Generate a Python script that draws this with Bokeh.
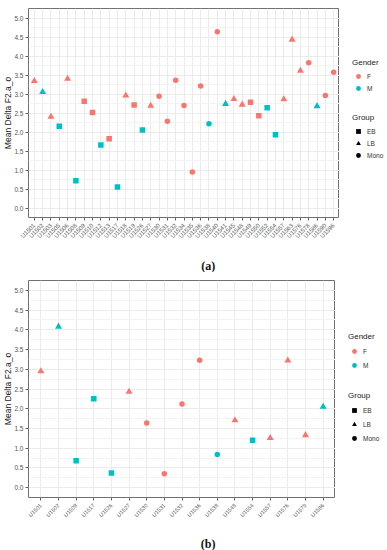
import math
from bokeh.plotting import figure
from bokeh.models import (FactorRange, Legend, LegendItem, Label, SingleIntervalTicker,
                          PrintfTickFormatter, ColumnDataSource, Range1d)
from bokeh.transform import factor_cmap, factor_mark
from bokeh.layouts import column, row
from bokeh.embed import file_html
from bokeh.resources import INLINE

# ---------------- data: panel (a) ----------------
a_speakers = ["U1501", "U1502", "U1503", "U1505", "U1506", "U1508", "U1509", "U1510",
              "U1512", "U1513", "U1517", "U1518", "U1519", "U1526", "U1527", "U1530",
              "U1531", "U1532", "U1534", "U1535", "U1536", "U1538", "U1540", "U1541",
              "U1545", "U1548", "U1549", "U1550", "U1552", "U1554", "U1557", "U1563",
              "U1576", "U1578", "U1586", "U1590", "U1596"]
a_gender = ["F", "M", "F", "M", "F", "M", "F", "F", "M", "F", "M", "F", "F", "M", "F", "F",
            "F", "F", "F", "F", "F", "M", "F", "M", "F", "F", "F", "F", "M", "M", "F", "F",
            "F", "F", "M", "F", "F"]
a_group = ["LB", "LB", "LB", "EB", "LB", "EB", "EB", "EB", "EB", "EB", "EB", "LB", "EB",
           "EB", "LB", "Mono", "Mono", "Mono", "Mono", "Mono", "Mono", "Mono", "Mono", "LB",
           "LB", "LB", "EB", "EB", "EB", "EB", "LB", "LB", "LB", "Mono", "LB", "Mono", "Mono"]
a_delta = [3.34, 3.05, 2.40, 2.15, 3.40, 0.72, 2.81, 2.51, 1.66, 1.82, 0.55, 2.96, 2.71,
           2.05, 2.69, 2.94, 2.28, 3.36, 2.70, 0.95, 3.21, 2.22, 4.64, 2.74, 2.87, 2.72,
           2.78, 2.43, 2.64, 1.93, 2.86, 4.43, 3.61, 3.82, 2.68, 2.96, 3.57]

# ---------------- data: panel (b) ----------------
b_speakers = ["U1501", "U1502", "U1508", "U1517", "U1526", "U1527", "U1530", "U1531",
              "U1532", "U1536", "U1538", "U1548", "U1554", "U1557", "U1576", "U1579", "U1586"]
b_gender = ["F", "M", "M", "M", "M", "F", "F", "F", "F", "F", "M", "F", "M", "F", "F", "F", "M"]
b_group = ["LB", "LB", "EB", "EB", "EB", "LB", "Mono", "Mono", "Mono", "Mono", "Mono",
           "LB", "EB", "LB", "LB", "LB", "LB"]
b_delta = [2.95, 4.08, 0.68, 2.25, 0.37, 2.43, 1.64, 0.35, 2.12, 3.23, 0.84, 1.71, 1.20,
           1.26, 3.22, 1.33, 2.05]

GENDERS = ["F", "M"]
GENDER_COLORS = ["#F8766D", "#00BFC4"]
GROUPS = ["EB", "LB", "Mono"]
GROUP_MARKERS = ["square", "triangle", "circle"]
MARK_SIZE = {"EB": 5.5, "LB": 7, "Mono": 5.5}

FONT = "Liberation Sans"
GRID = "#EBEBEB"
BORDER = "#707070"


def make_main(speakers, gender, group, delta, width, height, top, bottom, xfont):
    src = ColumnDataSource(dict(speaker=speakers, gender=gender, group=group, delta=delta,
                                size=[MARK_SIZE[g] for g in group]))
    p = figure(width=width, height=height,
               x_range=FactorRange(factors=speakers, range_padding=0.2,
                                   range_padding_units="absolute"),
               y_range=Range1d(-0.25, 5.25), output_backend="svg", toolbar_location=None,
               min_border_left=27, min_border_right=0, min_border_top=top,
               min_border_bottom=bottom, background_fill_color="white",
               border_fill_color="white")
    p.scatter(x="speaker", y="delta", source=src, size="size",
              marker=factor_mark("group", GROUP_MARKERS, GROUPS),
              fill_color=factor_cmap("gender", GENDER_COLORS, GENDERS), line_color=None)

    p.yaxis.ticker = SingleIntervalTicker(interval=0.5, num_minor_ticks=2)
    p.yaxis.formatter = PrintfTickFormatter(format="%.1f")
    p.yaxis.axis_label = "Mean Delta F2.a_o"
    p.yaxis.axis_label_text_font = FONT
    p.yaxis.axis_label_text_font_size = "8.5px"
    p.yaxis.axis_label_text_font_style = "normal"
    p.yaxis.axis_label_text_color = "#222222"
    p.yaxis.axis_label_standoff = -2
    for ax in (p.xaxis, p.yaxis):
        ax.axis_line_color = None
        ax.major_tick_line_color = "#606060"
        ax.major_tick_out = 3
        ax.major_tick_in = 0
        ax.minor_tick_line_color = None
        ax.major_label_text_font = FONT
        ax.major_label_text_color = "#555555"
    p.yaxis.major_label_standoff = 1
    p.xaxis.major_label_standoff = 4
    p.yaxis.major_label_text_font_size = "6.5px"
    p.xaxis.major_label_text_font_size = xfont
    p.xaxis.major_label_orientation = math.pi / 4

    p.xgrid.grid_line_color = GRID
    p.ygrid.grid_line_color = GRID
    p.ygrid.minor_grid_line_color = "#F3F3F3"
    p.outline_line_color = BORDER
    p.outline_line_width = 1
    return p


def blank(width, height):
    q = figure(width=width, height=height, x_range=Range1d(0, width),
               y_range=Range1d(0, height), x_axis_type=None, y_axis_type=None,
               output_backend="svg", toolbar_location=None, min_border=0,
               outline_line_color=None, background_fill_color="white",
               border_fill_color="white")
    q.grid.visible = False
    return q


def make_caption(width, text, cx):
    q = blank(width, 14)
    q.add_layout(Label(x=cx, y=7, text=text, text_align="center", text_baseline="middle",
                       text_font="Liberation Serif", text_font_style="bold",
                       text_font_size="12px", text_color="#111111"))
    return q


def make_legend(width, height, x, y_gender, y_group, row_h):
    q = blank(width, height)
    # key renderers: one point each, placed outside the visible range (only their legend keys show)
    keys_g = [q.scatter(x=[-100], y=[-100], marker="circle", size=6, fill_color=c,
                        line_color=None) for c in GENDER_COLORS]
    keys_m = [q.scatter(x=[-100], y=[-100], marker=m, size=6, fill_color="black",
                        line_color=None) for m in GROUP_MARKERS]
    for title, labels, rends, ly in (("Gender", GENDERS, keys_g, y_gender),
                                      ("Group", GROUPS, keys_m, y_group)):
        leg = Legend(items=[LegendItem(label=l, renderers=[r]) for l, r in zip(labels, rends)],
                     title=title, location=(x, ly), orientation="vertical",
                     padding=0, margin=0, spacing=0, border_line_color=None,
                     background_fill_alpha=0, glyph_width=12, glyph_height=12,
                     label_height=row_h, label_standoff=3,
                     label_text_font=FONT, label_text_font_size="6.5px",
                     label_text_color="#333333",
                     title_text_font=FONT, title_text_font_size="8px",
                     title_text_font_style="normal", title_text_color="#222222",
                     title_standoff=3)
        q.add_layout(leg)
    return q


pa = make_main(a_speakers, a_gender, a_group, a_delta, width=339, height=258, top=8,
               bottom=41, xfont="6px")
ca = make_caption(339, "(a)", 196)
la = make_legend(width=48, height=272, x=13, y_gender=178, y_group=111, row_h=12)

pb = make_main(b_speakers, b_gender, b_group, b_delta, width=335, height=264, top=8,
               bottom=39, xfont="5.5px")
cb = make_caption(335, "(b)", 196)
lb = make_legend(width=52, height=278, x=13, y_gender=178, y_group=105, row_h=14)

layout = column(row(column(pa, ca, spacing=0), la, spacing=0),
                row(column(pb, cb, spacing=0), lb, spacing=0), spacing=0)
open("out.html", "w").write(file_html(layout, INLINE))
